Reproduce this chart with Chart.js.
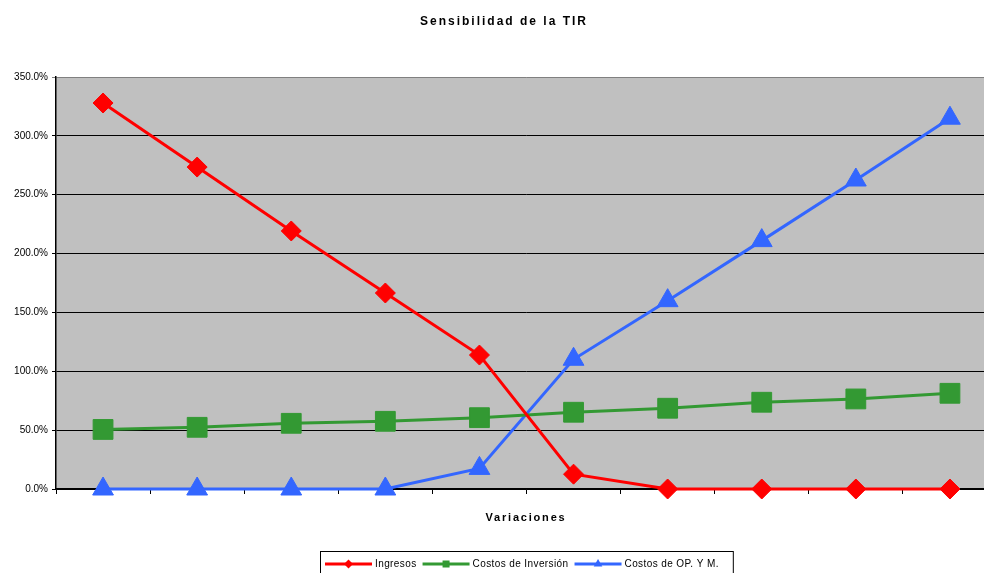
<!DOCTYPE html>
<html>
<head>
<meta charset="utf-8">
<script src="https://cdn.jsdelivr.net/npm/chart.js@4.4.1/dist/chart.umd.min.js"></script>
<style>
  html, body { margin: 0; padding: 0; background: #fff; overflow: hidden; width: 984px; height: 573px; }
  #wrap { width: 1012px; height: 573px; }
  canvas { display: block; }
</style>
</head>
<body>
<div id="wrap"><canvas id="c" width="1012" height="573"></canvas></div>
<script>
// Texts
const chartTitle = 'Sensibilidad de la TIR';
const xAxisTitle = 'Variaciones';
const seriesNames = ['Ingresos', 'Costos de Inversión', 'Costos de OP. Y M.'];

// Variation steps (not labelled on the axis)
const categories = ['1', '2', '3', '4', '5', '6', '7', '8', '9', '10'];

// TIR (%) for each variation step
const ingresos        = [327.9, 273.5, 219.2, 166.5, 113.8, 12.6, 0, 0, 0, 0];
const costosInversion = [50.6, 52.4, 55.8, 57.5, 60.6, 65.2, 68.6, 73.7, 76.5, 81.3];
const costosOperacion = [0, 0, 0, 0, 17.5, 110.2, 160.0, 211.0, 262.5, 315.0];

// Value axis ticks
const yTicks = [0, 50, 100, 150, 200, 250, 300, 350];

const colors = ['#FF0000', '#339933', '#3366FF'];
const styles = ['rectRot', 'rect', 'triangle'];
const radii  = [10, 14, 12];
const FONT = '"Liberation Sans", Arial, Helvetica, sans-serif';

const seriesValues = [ingresos, costosInversion, costosOperacion];

const datasets = seriesValues.map((vals, i) => ({
  label: seriesNames[i],
  data: vals,
  borderColor: colors[i],
  backgroundColor: colors[i],
  borderWidth: 3,
  pointStyle: styles[i],
  pointRadius: radii[i],
  pointHoverRadius: radii[i],
  pointBackgroundColor: colors[i],
  pointBorderColor: colors[i],
  pointBorderWidth: 1,
  tension: 0,
  fill: false,
  clip: false
}));

// Grey plot background
const plotBackground = {
  id: 'plotBackground',
  beforeDraw(chart) {
    const { ctx, chartArea: a } = chart;
    ctx.save();
    ctx.fillStyle = '#C0C0C0';
    ctx.fillRect(a.left, a.top, a.right - a.left, a.bottom - a.top);
    ctx.restore();
  }
};

function legendMarker(ctx, style, x, y, color) {
  ctx.fillStyle = color;
  ctx.beginPath();
  if (style === 'rectRot') {
    const r = 4.5;
    ctx.moveTo(x, y - r); ctx.lineTo(x + r, y); ctx.lineTo(x, y + r); ctx.lineTo(x - r, y);
  } else if (style === 'rect') {
    ctx.rect(x - 3.5, y - 3.5, 7, 7);
  } else {
    const r = 5;
    ctx.moveTo(x, y - r);
    ctx.lineTo(x + r * 0.866, y + r / 2);
    ctx.lineTo(x - r * 0.866, y + r / 2);
  }
  ctx.closePath();
  ctx.fill();
}

// Title, axis title and boxed legend
const decorations = {
  id: 'decorations',
  afterDraw(chart) {
    const ctx = chart.ctx;
    ctx.save();
    ctx.fillStyle = '#000';
    ctx.textAlign = 'center';
    ctx.textBaseline = 'alphabetic';

    ctx.font = 'bold 12px ' + FONT;
    ctx.letterSpacing = '2px';
    ctx.fillText(chartTitle, 504, 25);

    ctx.font = 'bold 11px ' + FONT;
    ctx.letterSpacing = '1.8px';
    ctx.fillText(xAxisTitle, 526, 521);

    // legend
    ctx.font = '10px ' + FONT;
    ctx.letterSpacing = '0.4px';
    ctx.textAlign = 'left';
    ctx.textBaseline = 'middle';
    const sample = 47, gapText = 3, gapItem = 6, padL = 5, padR = 14;
    const widths = seriesNames.map(n => ctx.measureText(n).width);
    let total = padL + padR;
    widths.forEach((w, i) => { total += sample + gapText + w + (i < widths.length - 1 ? gapItem : 0); });
    const boxLeft = Math.round(526.5 - total / 2);
    const boxTop = 551;
    const ly = 564;

    ctx.strokeStyle = '#000';
    ctx.lineWidth = 1;
    ctx.strokeRect(boxLeft + 0.5, boxTop + 0.5, total, 30);

    let x = boxLeft + padL;
    seriesNames.forEach((name, i) => {
      ctx.strokeStyle = colors[i];
      ctx.lineWidth = 3;
      ctx.beginPath();
      ctx.moveTo(x, ly);
      ctx.lineTo(x + sample, ly);
      ctx.stroke();
      legendMarker(ctx, styles[i], x + sample / 2, ly, colors[i]);
      x += sample + gapText;
      ctx.fillStyle = '#000';
      ctx.fillText(name, x, ly);
      x += widths[i] + gapItem;
    });
    ctx.restore();
  }
};

new Chart(document.getElementById('c'), {
  type: 'line',
  data: { labels: categories, datasets },
  plugins: [plotBackground, decorations],
  options: {
    responsive: false,
    animation: false,
    devicePixelRatio: 1,
    layout: { padding: { top: 77, right: 4, left: 0, bottom: 0 } },
    plugins: {
      legend: { display: false },
      title: { display: false },
      tooltip: { enabled: false }
    },
    scales: {
      x: {
        type: 'category',
        offset: true,
        afterFit(scale) { scale.height = 84; },
        grid: {
          offset: true,
          drawOnChartArea: false,
          drawTicks: true,
          tickLength: 5,
          color: '#000',
          lineWidth: 1
        },
        border: { display: true, color: '#000', width: 1.5 },
        ticks: { display: false }
      },
      y: {
        min: 0,
        max: 350,
        afterFit(scale) { scale.width = 56; },
        afterBuildTicks(scale) { scale.ticks = yTicks.map(v => ({ value: v })); },
        grid: {
          drawTicks: true,
          tickLength: 4,
          color: ctx => (ctx.tick && ctx.tick.value === 350 ? '#808080' : '#000'),
          lineWidth: 1
        },
        border: { display: true, color: '#000', width: 1.5 },
        ticks: {
          padding: 4,
          color: '#000',
          font: { family: FONT, size: 10 },
          callback: v => Number(v).toFixed(1) + '%'
        }
      }
    }
  }
});
</script>
</body>
</html>
